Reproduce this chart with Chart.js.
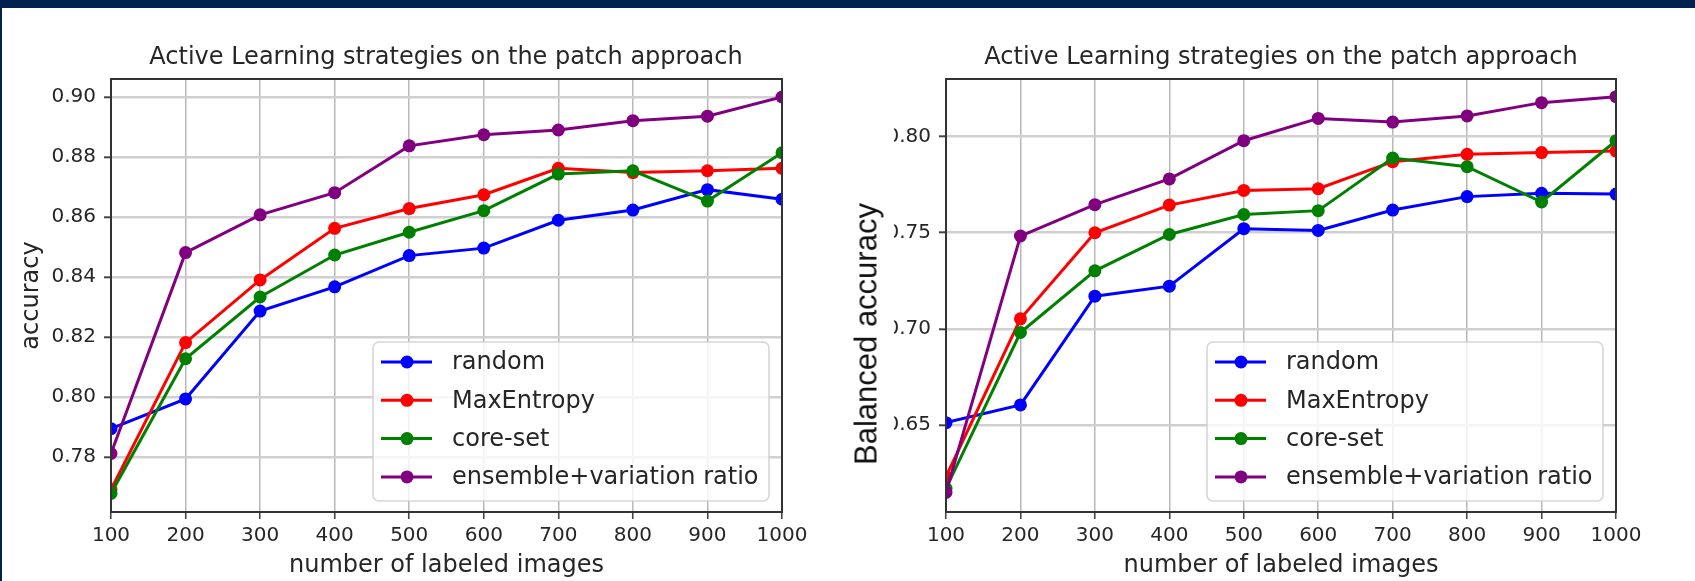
<!DOCTYPE html>
<html>
<head>
<meta charset="utf-8">
<script src="https://cdn.jsdelivr.net/npm/chart.js@4.4.1/dist/chart.umd.min.js"></script>
<style>
  html, body { margin: 0; padding: 0; background: #fff; overflow: hidden; }
  body { width: 1695px; height: 581px; position: relative; }
  .bar-top { position: absolute; left: 0; top: 0; width: 1695px; height: 8px; background: #01214f; z-index: 5; }
  .bar-left { position: absolute; left: 0; top: 0; width: 2px; height: 581px; background: #01214f; z-index: 5; }
  #leftChart { position: absolute; left: 0; top: 0; }
  .clip { position: absolute; left: 894px; top: 0; width: 801px; height: 581px; overflow: hidden; }
  #rightChart { position: absolute; left: -59px; top: 0; }
  .ylabel {
    position: absolute; left: 866px; top: 334px;
    transform: translate(-50%, -50%) rotate(-90deg);
    font-family: 'Liberation Sans', Arial, sans-serif; font-size: 31px; line-height: 1;
    white-space: nowrap; color: #111;
  }
</style>
</head>
<body>
<div class="bar-top"></div>
<div class="bar-left"></div>
<canvas id="leftChart" width="892" height="581"></canvas>
<div class="clip"><canvas id="rightChart" width="892" height="581"></canvas></div>
<div class="ylabel">Balanced accuracy</div>
<script>
const labeledImages = [100, 200, 300, 400, 500, 600, 700, 800, 900, 1000];
const seriesNames = ['random', 'MaxEntropy', 'core-set', 'ensemble+variation ratio'];
const seriesColors = ['#0000ff', '#ff0000', '#008000', '#800080'];

// left: accuracy
const accRandom     = [0.7894, 0.7993, 0.8286, 0.8367, 0.8471, 0.8496, 0.8589, 0.8623, 0.8691, 0.8659];
const accMaxEntropy = [0.7691, 0.8181, 0.8390, 0.8562, 0.8628, 0.8674, 0.8762, 0.8748, 0.8754, 0.8762];
const accCoreSet    = [0.7678, 0.8127, 0.8333, 0.8473, 0.8549, 0.8621, 0.8743, 0.8754, 0.8653, 0.8814];
const accEnsemble   = [0.7811, 0.8481, 0.8607, 0.8681, 0.8837, 0.8874, 0.8890, 0.8921, 0.8936, 0.9000];
const accTicks = [0.78, 0.80, 0.82, 0.84, 0.86, 0.88, 0.90];

// right: balanced accuracy
const balRandom     = [0.6512, 0.6604, 0.7170, 0.7222, 0.7521, 0.7512, 0.7618, 0.7688, 0.7705, 0.7701];
const balMaxEntropy = [0.6231, 0.7052, 0.7500, 0.7644, 0.7720, 0.7729, 0.7870, 0.7908, 0.7917, 0.7925];
const balCoreSet    = [0.6170, 0.6981, 0.7302, 0.7491, 0.7595, 0.7615, 0.7889, 0.7844, 0.7660, 0.7979];
const balEnsemble   = [0.6149, 0.7483, 0.7646, 0.7780, 0.7979, 0.8095, 0.8076, 0.8108, 0.8177, 0.8208];
const balTicks = [0.65, 0.70, 0.75, 0.80];

Chart.defaults.font.family = 'DejaVu Sans';
Chart.defaults.color = '#262626';

// spines + matplotlib-like legend box in the lower right of the plot
const frameAndLegend = {
  id: 'frameAndLegend',
  afterDatasetsDraw(chart) {
    const { ctx, chartArea: a } = chart;
    ctx.save();
    ctx.strokeStyle = '#333';
    ctx.lineWidth = 2;
    ctx.strokeRect(a.left, a.top, a.right - a.left, a.bottom - a.top);

    const w = 396, h = 159;
    const x0 = a.right - 13 - w, y0 = a.bottom - 11 - h;
    ctx.beginPath();
    ctx.roundRect(x0, y0, w, h, 6);
    ctx.fillStyle = 'rgba(255,255,255,0.8)';
    ctx.fill();
    ctx.strokeStyle = 'rgba(204,204,204,0.8)';
    ctx.lineWidth = 1.6;
    ctx.stroke();

    ctx.font = '24px "DejaVu Sans"';
    ctx.textBaseline = 'middle';
    chart.data.datasets.forEach((ds, i) => {
      const cy = y0 + 20 + i * 38.3;
      ctx.strokeStyle = ds.borderColor;
      ctx.lineWidth = 3;
      ctx.beginPath();
      ctx.moveTo(x0 + 8, cy);
      ctx.lineTo(x0 + 59, cy);
      ctx.stroke();
      ctx.fillStyle = ds.borderColor;
      ctx.beginPath();
      ctx.arc(x0 + 34, cy, 6.5, 0, Math.PI * 2);
      ctx.fill();
      ctx.fillStyle = '#262626';
      ctx.fillText(ds.label, x0 + 79, cy + 1);
    });
    ctx.restore();
  }
};

function makeChart(id, series, ticks, yMin, yMax, yTitle, rightGap) {
  const datasets = series.map((values, i) => ({
    label: seriesNames[i],
    data: values.map((v, j) => ({ x: labeledImages[j], y: v })),
    borderColor: seriesColors[i],
    backgroundColor: seriesColors[i],
    pointBackgroundColor: seriesColors[i],
    pointBorderWidth: 0,
    pointRadius: 6.5,
    borderWidth: 3,
    tension: 0,
    clip: 0,
    order: series.length - i
  }));

  return new Chart(document.getElementById(id), {
    type: 'line',
    data: { datasets },
    plugins: [frameAndLegend],
    options: {
      responsive: false,
      animation: false,
      devicePixelRatio: 1,
      layout: { padding: 0 },
      plugins: {
        legend: { display: false },
        tooltip: { enabled: false },
        title: {
          display: true,
          text: 'Active Learning strategies on the patch approach',
          font: { size: 24, weight: 'normal' },
          color: '#262626',
          padding: { top: 43.5, bottom: 6.7 }
        }
      },
      scales: {
        x: {
          type: 'linear',
          min: 100,
          max: 1000,
          afterBuildTicks: (s) => { s.ticks = labeledImages.map(v => ({ value: v })); },
          afterFit: (s) => { s.height = 69; },
          ticks: { font: { size: 20 }, padding: 5, maxRotation: 0, autoSkip: false, callback: (v) => String(v) },
          grid: { color: '#b8b8b8', lineWidth: 1.5, tickColor: '#444', tickLength: 7, tickWidth: 1.6 },
          border: { display: false },
          title: {
            display: true,
            text: 'number of labeled images',
            font: { size: 24 },
            padding: { top: 0, bottom: 1 }
          }
        },
        y: {
          min: yMin,
          max: yMax,
          afterBuildTicks: (s) => { s.ticks = ticks.map(v => ({ value: v })); },
          afterFit: (s) => { s.width = 111; },
          ticks: { font: { size: 20 }, padding: 8, callback: (v) => v.toFixed(2) },
          grid: { color: '#d0d0d0', lineWidth: 2.6, tickColor: '#444', tickLength: 7, tickWidth: 2 },
          border: { display: false },
          title: {
            display: yTitle !== '',
            text: yTitle,
            font: { size: 24 },
            padding: { top: 17, bottom: 0 }
          }
        },
        // empty spacer on the right so the title centres over the plot
        yGap: {
          position: 'right',
          min: 0,
          max: 1,
          afterFit: (s) => { s.width = rightGap; },
          ticks: { display: false },
          grid: { display: false },
          border: { display: false }
        }
      }
    }
  });
}

makeChart('leftChart', [accRandom, accMaxEntropy, accCoreSet, accEnsemble], accTicks, 0.7616, 0.906, 'accuracy', 110);
makeChart('rightChart', [balRandom, balMaxEntropy, balCoreSet, balEnsemble], balTicks, 0.6047, 0.830, '', 111);
</script>
</body>
</html>
